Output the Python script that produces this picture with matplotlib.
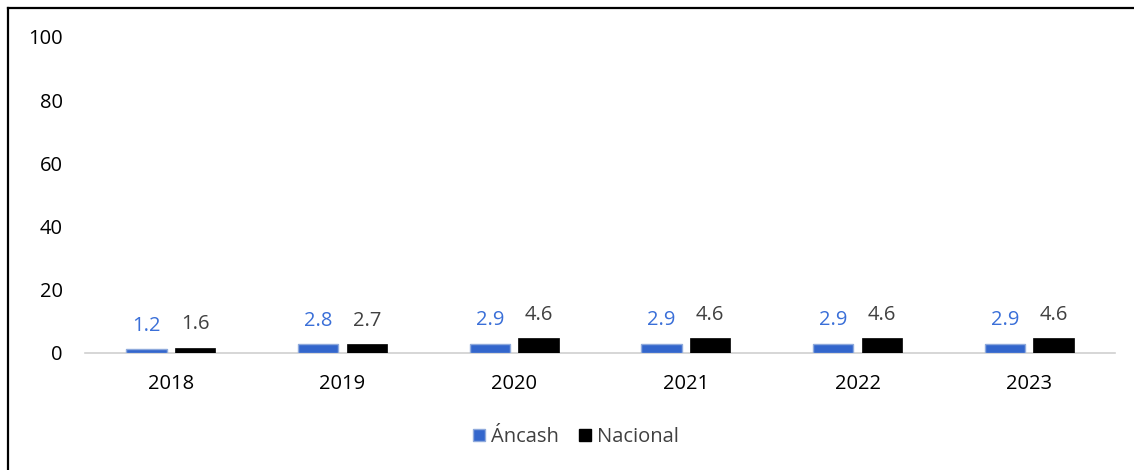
import matplotlib
matplotlib.use("Agg")
import matplotlib.pyplot as plt
from matplotlib.lines import Line2D
from matplotlib.patches import Patch

years = ["2018", "2019", "2020", "2021", "2022", "2023"]
ancash = [1.2, 2.8, 2.9, 2.9, 2.9, 2.9]
nacional = [1.6, 2.7, 4.6, 4.6, 4.6, 4.6]
series_names = ["Áncash", "Nacional"]

plt.rcParams["font.family"] = ["Open Sans", "DejaVu Sans"]

W, H = 1134, 470
fig = plt.figure(figsize=(W / 100, H / 100), dpi=100)
ax = fig.add_axes([85 / W, 1 - 353 / H, 1030 / W, (353 - 37) / H])

x = list(range(len(years)))
bw = 0.235
gap = 0.025
xa = [i - bw / 2 - gap for i in x]
xn = [i + bw / 2 + gap for i in x]

blue = "#3366CC"
ax.bar(xa, ancash, width=bw, color=blue, edgecolor="#8FAADC", linewidth=1.0, zorder=3)
ax.bar(xn, nacional, width=bw, color="black", edgecolor="black", linewidth=0.5, zorder=3)

for xi, v in zip(xa, ancash):
    ax.annotate(f"{v:.1f}", (xi, v), xytext=(0, 17), textcoords="offset points",
                ha="center", va="center", fontsize=14.5, color="#3A6FD8")
for xi, v in zip(xn, nacional):
    ax.annotate(f"{v:.1f}", (xi, v), xytext=(0, 17), textcoords="offset points",
                ha="center", va="center", fontsize=14.5, color="#404040")

ax.set_xlim(-0.5, len(years) - 0.5)
ax.set_ylim(0, 100)
ax.set_yticks(range(0, 101, 20))
ax.set_xticks(x)
ax.set_xticklabels(years)
ax.tick_params(axis="both", length=0, labelsize=14.5, colors="black")
ax.tick_params(axis="y", pad=16)
ax.tick_params(axis="x", pad=15)
for s in ["top", "right", "left"]:
    ax.spines[s].set_visible(False)
ax.spines["bottom"].set_color("#D0D0D0")
ax.spines["bottom"].set_linewidth(1.2)

handles = [Patch(facecolor=blue, edgecolor="#8FAADC", linewidth=1.0),
           Patch(facecolor="black", edgecolor="black")]
fig.legend(handles, series_names, loc="center", bbox_to_anchor=(576 / W, 1 - 437 / H),
           ncol=2, frameon=False, fontsize=14.5, handlelength=0.6, handleheight=0.6,
           handletextpad=0.3, columnspacing=1.0, labelcolor="#404040")

# outer chart frame
fig.add_artist(Line2D([7.5 / W, 7.5 / W], [0, 1 - 7.5 / H], transform=fig.transFigure,
                      color="black", linewidth=1.6))
fig.add_artist(Line2D([7.5 / W, 1], [1 - 7.5 / H, 1 - 7.5 / H], transform=fig.transFigure,
                      color="black", linewidth=1.6))

fig.savefig("out.png", dpi=100)
